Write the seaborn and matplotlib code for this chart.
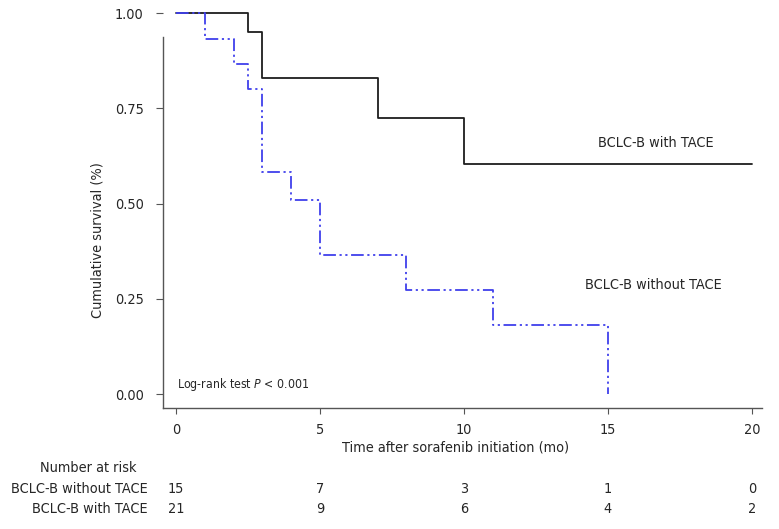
import pandas as pd
import seaborn as sns
import matplotlib.pyplot as plt

# ---------------- Data ----------------
TACE_TIME = [0, 2.5, 3, 7, 10, 20]
TACE_SURV = [1.00, 0.95, 0.83, 0.725, 0.605, 0.605]
NO_TACE_TIME = [0, 1, 2, 2.5, 3, 4, 5, 8, 11, 15]
NO_TACE_SURV = [1.00, 0.933, 0.867, 0.80, 0.582, 0.509, 0.364, 0.273, 0.182, 0.0]

RISK_TIMES = [0, 5, 10, 15, 20]
RISK_NO_TACE = [15, 7, 3, 1, 0]
RISK_TACE = [21, 9, 6, 4, 2]

X_TICKS = [0, 5, 10, 15, 20]
Y_TICKS = [0.00, 0.25, 0.50, 0.75, 1.00]

GROUP_TACE = "BCLC-B with TACE"
GROUP_NO_TACE = "BCLC-B without TACE"

# ---------------- Build long-form table ----------------
df = pd.concat([
    pd.DataFrame({"time": TACE_TIME, "surv": TACE_SURV, "group": GROUP_TACE}),
    pd.DataFrame({"time": NO_TACE_TIME, "surv": NO_TACE_SURV, "group": GROUP_NO_TACE}),
], ignore_index=True)

# ---------------- Style ----------------
sns.set_theme(style="ticks")
plt.rcParams["font.family"] = ["DejaVu Sans"]
plt.rcParams["font.stretch"] = "condensed"
FS = 10.4

fig = plt.figure(figsize=(7.79, 5.29), dpi=100)
ax = fig.add_axes([163 / 779, 1 - 408 / 529, 599 / 779, 403 / 529])

sns.lineplot(
    data=df, x="time", y="surv", hue="group", style="group",
    palette={GROUP_TACE: "#1e1e1e", GROUP_NO_TACE: "#4040ec"},
    dashes={GROUP_TACE: "", GROUP_NO_TACE: (7, 2, 1.2, 2, 1.2, 2)},
    drawstyle="steps-post", estimator=None, linewidth=1.3,
    legend=False, ax=ax,
)

ax.set_xlim(-0.45, 20.35)
ax.set_ylim(-0.0367, 1.021)
ax.set_xticks(X_TICKS)
ax.set_yticks(Y_TICKS)
ax.set_yticklabels([f"{v:.2f}" for v in Y_TICKS])
ax.tick_params(axis="x", length=4, width=0.8, pad=7, labelsize=FS, color="#555555")
ax.tick_params(axis="y", length=5, width=0.8, pad=9, labelsize=FS, color="#555555")
sns.despine(ax=ax)
ax.spines["left"].set_bounds(-0.0367, 0.937)
for s in ("left", "bottom"):
    ax.spines[s].set_color("#555555")
    ax.spines[s].set_linewidth(1.0)

ax.set_xlabel("Time after sorafenib initiation (mo)", fontsize=FS)
ax.set_ylabel("Cumulative survival (%)", fontsize=FS)
ax.xaxis.set_label_coords(0.489, -0.08)
ax.yaxis.set_label_coords(-0.097, 0.417)

# curve labels
ax.text(14.65, 0.66, GROUP_TACE, fontsize=FS, va="center")
ax.text(14.2, 0.285, GROUP_NO_TACE, fontsize=FS, va="center")
ax.text(0.05, 0.025, "Log-rank test $\\it{P}$ < 0.001", fontsize=8.8, va="center")

# ---------------- Number at risk table ----------------
def fig_y(px):
    return 1 - px / 529

fig.text(137 / 779, fig_y(468), "Number at risk", fontsize=FS, ha="right", va="center")
fig.text(148 / 779, fig_y(489), GROUP_NO_TACE, fontsize=FS, ha="right", va="center")
fig.text(148 / 779, fig_y(509), GROUP_TACE, fontsize=FS, ha="right", va="center")
trans = ax.get_xaxis_transform()
for t, n1, n2 in zip(RISK_TIMES, RISK_NO_TACE, RISK_TACE):
    ax.text(t, (408 - 489) / 403, str(n1), transform=trans, fontsize=FS,
            ha="center", va="center", clip_on=False)
    ax.text(t, (408 - 509) / 403, str(n2), transform=trans, fontsize=FS,
            ha="center", va="center", clip_on=False)

fig.savefig("out.png", dpi=100)
